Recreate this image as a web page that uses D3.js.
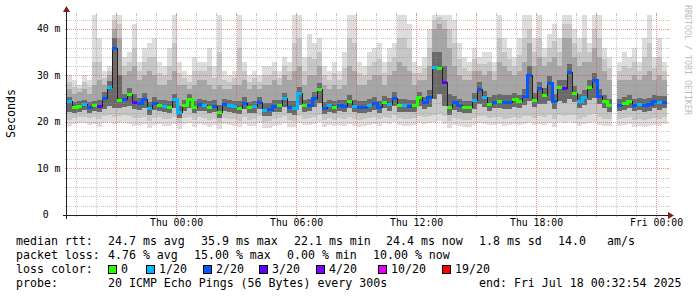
<!DOCTYPE html>
<html>
<head>
<meta charset="utf-8">
<script src="https://cdn.jsdelivr.net/npm/d3@7"></script>
<style>
  body { margin: 0; background: #ffffff; }
  svg text { font-family: "DejaVu Sans Mono", monospace; }
</style>
</head>
<body>
<div id="chart"></div>
<script>
// graph time span (UTC), one sample every 15 minutes
var tStart = Date.UTC(2025, 6, 16, 18, 32, 54);
var tEnd = Date.UTC(2025, 6, 18, 0, 32, 54);
var stepMs = 15 * 60 * 1000;

// median rtt in ms (null = no data)
var median = [24.5,23.3,23.5,23.9,23.3,23.6,23.4,25.2,27.6,35.9,
  24.7,24.9,26.0,24.3,24.0,25.0,22.9,24.0,23.6,23.5,
  23.2,24.9,22.1,23.6,24.9,23.2,23.8,23.6,23.3,23.5,
  22.1,23.8,23.6,23.4,23.1,24.1,23.2,23.4,24.2,22.6,
  22.7,23.5,23.6,25.1,23.2,23.0,26.2,23.6,23.6,25.2,
  27.1,23.1,23.6,23.3,23.6,23.5,24.5,23.5,23.2,23.3,
  23.6,24.0,23.3,24.4,23.8,25.2,23.6,23.6,23.5,23.6,
  25.3,24.2,25.3,31.8,31.5,28.6,23.3,24.2,23.6,23.3,
  23.3,24.8,27.1,25.3,23.9,24.4,24.6,24.4,24.4,25.0,
  24.5,25.6,30.0,24.8,27.2,25.9,28.3,24.5,27.5,27.3,
  30.8,26.3,24.5,25.3,27.5,29.0,25.6,24.5,23.6,null,
  23.7,24.0,24.6,23.7,23.9,23.6,23.9,24.5,24.2,24.4];

// lost pings out of 20
var loss = [1,0,0,1,2,0,3,2,1,2,
  0,2,0,3,2,2,1,2,0,1,
  0,1,1,0,0,0,2,1,0,2,
  0,2,1,1,0,2,0,1,2,1,
  2,2,0,1,2,1,1,0,2,2,
  0,2,1,0,2,2,0,1,2,2,
  1,2,2,0,1,2,0,1,2,0,
  0,2,2,1,0,3,0,2,2,0,
  0,1,2,1,0,2,0,2,2,0,
  0,2,2,0,2,0,2,2,0,3,
  2,0,1,1,0,2,2,0,0,null,
  2,0,0,2,1,2,2,2,1,2];

// smoke: slowest ping
var pingMax = [30,29,28,30,29,43.5,38,31,32,43.5,
  43.5,34,35,41,33,36,37,38,33,32,
  36,43.5,33,31,30,34,33,33,36,32,
  43.5,31,30,31,43.5,33,30,31,30,32,
  32,33,31,34,33,43.5,43.5,34,39,37,
  38,32,31,33,31,35,43.5,43.5,33,32,
  35,36,37,33,36,37,43.5,43.5,41,33,
  32,34,40,43.5,43.5,43.5,43.5,42,37,34,
  33,36,34,35,35,33,43.5,38,36,34,
  38,43.5,43.5,38,43.5,36,39,41,38,43.5,
  43.5,40,38,43.5,37,43.5,43.5,36,34,null,
  33,35,34,36,33,38,43.5,34,38,33];

// smoke: upper edge of the light-mid band
var pingHi2 = [28.5,27.5,27.3,28.5,27.5,33,33,29.5,31,42,
  41,32,33,36,31,33,34,34,30.5,30,
  32,37,30.5,29.5,28.5,31,31,31,32,29.5,
  35,29,28.5,29.5,36,31,28.5,29.5,28.5,30,
  30,31,29.5,32,31,37,38,31,34,33.5,
  35,30,29,30.5,29,31.5,38,37,30.5,30,
  32,33,33.5,30.5,33,34,38,38,36,30.5,
  30.5,31.5,36,42,42.5,42,40,37,33.5,31.5,
  31,33.5,32.5,32.5,33,31,38,35,33.5,32,
  34.5,38,40,35,38,34,36,37.5,35,41,
  41,37,35,38,35,40,38,33.5,31.5,null,
  31,32,31.5,33,31,34,37,31.5,34,31];

// smoke: upper edge of the mid band
var pingHi = [27,26,26.5,27,26,28,29,28,30,40,
  38,30,31,32,29,30,31,30,28,28,
  29,31,28,28,27,28,29,29,28,27,
  28,27,27,28,28,29,27,28,27,28,
  28,29,28,30,29,31,32,28,30,30,
  32,28,27,28,27,28,32,31,28,28,
  29,30,30,28,30,31,33,32,31,28,
  29,29,32,40,41,40,36,32,30,29,
  29,31,31,30,31,29,33,32,31,30,
  31,33,37,32,34,32,33,34,32,38,
  38,34,32,33,33,36,34,31,29,null,
  29,29,29,30,29,30,31,29,30,29];

// smoke: upper edge of the dark core
var pingHiIn = [25.3,24.3,24.5,24.8,24.3,24.6,24.8,26.5,28.8,38,
  30,26,27.2,26,25.2,26.2,24.2,25.3,24.8,24.7,
  24.5,26,23.5,24.8,26,24.5,25,24.8,24.5,24.7,
  23.6,25,24.8,24.6,24.5,25.3,24.4,24.6,25.3,24,
  24,24.8,24.8,26.3,24.5,24.5,27.5,24.8,24.9,26.5,
  28.4,24.4,24.8,24.6,24.8,24.8,25.8,24.8,24.5,24.6,
  24.9,25.3,24.6,25.6,25.1,26.5,25,25,24.8,24.8,
  26.5,25.4,26.8,35,35,32,26,25.5,24.9,24.6,
  24.6,26.2,28.5,26.6,25.3,25.7,26,25.8,25.8,26.3,
  25.9,27,32,26.3,28.6,27.3,29.8,26,29,29,
  32.5,27.8,26,26.8,29,30.5,27,25.8,24.9,null,
  25,25.3,25.9,25,25.2,24.9,25.2,25.8,25.5,25.6];

// smoke: lower edge of the dark core
var pingLoIn = [22.2,22,22.2,22.5,22,22.3,22.1,22.8,23.5,23,
  23,23.2,23.5,22.8,22.6,23,21.6,22.6,22.3,22.1,
  21.9,23,20.9,22.3,23,21.9,22.4,22.3,22,22.1,
  20.9,22.4,22.2,22,21.8,22.7,21.9,22,22.8,21.2,
  21.3,22.1,22.2,23.3,21.9,21.6,23.6,22.2,22.3,23.2,
  24,21.8,22.2,21.9,22.3,22.1,23,22.1,21.9,22,
  22.2,22.6,22,22.9,22.4,23.4,22.2,22.2,22.1,22.2,
  23.5,22.8,23.2,25,26,23.5,21.5,22.6,22.2,21.9,
  21.9,22.8,23.8,23.3,22.4,22.9,23,22.8,22.8,23.3,
  23,23.6,24.5,23.2,23.8,23.8,24.5,22.8,24.5,24,
  25,24.2,22.9,23.6,24.8,25.2,23.8,22.9,22.2,null,
  22.3,22.6,23,22.3,22.5,22.2,22.4,22.9,22.6,22.9];

// smoke: lower edge of the mid band
var pingLo = [20.5,20.8,21,21.1,20.8,21,20.6,21.2,21.4,21,
  21.2,21.5,21.2,20.8,20.9,21,20.2,20.8,21,20.6,
  20.6,21,19.8,20.9,21.1,20.5,21,20.8,20.5,20.7,
  19.8,20.9,20.7,20.6,20.3,21,20.5,20.6,21.2,20,
  20.2,20.7,20.8,21.2,20.5,20.3,21.3,20.7,20.8,21,
  21.6,20.5,20.8,20.5,20.8,20.6,21,20.6,20.5,20.6,
  20.8,21,20.6,21.1,20.9,21.4,20.8,20.7,20.6,20.8,
  21.3,21,21.2,21.5,21.8,21.2,20.3,20.9,20.7,20.5,
  20.5,20.9,21.3,21.2,20.8,21,21,20.6,20.8,21,
  20.8,21.2,21.3,20.9,21.2,21,21.4,20.6,21.5,21.3,
  21.6,21.4,20.7,21.1,21.4,21.7,21,20.6,20.7,null,
  20.6,20.8,21,20.5,20.7,20.4,20.6,20.9,20.7,21];

// smoke: fastest ping
var pingMin = [19.2,19.5,19.8,19.7,19.4,19.6,19,19.8,19.9,19.5,
  19.7,20,19.6,19.2,19.4,19.5,18.8,19.3,19.6,19.1,
  19.2,19.6,18.5,19.5,19.8,19,19.6,19.3,19,19.3,
  18.4,19.5,19.3,19.1,18.9,19.6,19.1,19.2,19.8,18.7,
  18.8,19.2,19.4,19.8,19,18.9,19.7,19.3,19.4,19.5,
  20,19,19.4,19.1,19.4,19.2,19.5,19.1,19,19.2,
  19.4,19.6,19.2,19.7,19.5,19.9,19.3,19.2,19.2,19.4,
  19.8,19.5,19.7,19.9,20.2,19.6,18.8,19.4,19.2,19,
  19,19.4,19.8,19.6,19.3,19.4,19.5,19.1,19.3,19.5,
  19.3,19.6,19.7,19.3,19.6,19.4,19.8,19,19.9,19.7,
  20,19.8,19.2,19.5,19.8,20,19.4,19.1,19.2,null,
  19.1,19.3,19.5,18.9,19.2,18.9,19.1,19.3,19.1,19.5];

// loss colour legend
var lossLevels = [0, 1, 2, 3, 4, 10, 19];
var lossLabels = ["0", "1/20", "2/20", "3/20", "4/20", "10/20", "19/20"];
var lossColors = ["#26ff00", "#00b8ff", "#0059ff", "#5e00ff", "#7e00ff", "#dd00ff", "#ff0000"];

// axis ticks
var yTicks = [0, 10, 20, 30, 40];
var yTickLabels = ["0  ", "10 m", "20 m", "30 m", "40 m"];
var xTickTimes = [Date.UTC(2025, 6, 17, 0), Date.UTC(2025, 6, 17, 6), Date.UTC(2025, 6, 17, 12),
  Date.UTC(2025, 6, 17, 18), Date.UTC(2025, 6, 18, 0)];
var xTickLabels = ["Thu 00:00", "Thu 06:00", "Thu 12:00", "Thu 18:00", "Fri 00:00"];

// legend text
var legendRows = [
  [["median rtt:", 16], ["24.7 ms avg", 108], ["35.9 ms max", 201], ["22.1 ms min", 294],
   ["24.4 ms now", 386], ["1.8 ms sd", 479], ["14.0", 558], ["am/s", 607]],
  [["packet loss:", 16], ["4.76 % avg", 108], ["15.00 % max", 194], ["0.00 % min", 287],
   ["10.00 % now", 373]],
  [["loss color:", 16]],
  [["probe:", 16], ["20 ICMP Echo Pings (56 Bytes) every 300s", 108],
   ["end: Fri Jul 18 00:32:54 2025", 479]]
];
var lossLegendX = [108, 146, 203, 259, 316, 378, 442];

var W = 697, H = 297;
var X0 = 67, X1 = 667, Y0 = 215, Y1 = 15;

var svg = d3.select("#chart").append("svg")
  .attr("width", W).attr("height", H)
  .style("display", "block");

svg.append("rect").attr("width", W).attr("height", H).attr("fill", "#ffffff");

var x = d3.scaleUtc().domain([tStart, tEnd]).range([X0, X1]);
var y = d3.scaleLinear().domain([0, 43]).range([Y0, Y1]);

svg.append("clipPath").attr("id", "plot")
  .append("rect").attr("x", X0).attr("y", Y1).attr("width", X1 - X0).attr("height", Y0 - Y1);

var samples = median.map(function (m, i) {
  return {
    t0: tStart + i * stepMs, t1: tStart + (i + 1) * stepMs,
    med: m, loss: loss[i],
    max: pingMax[i], hi2: pingHi2[i], hi: pingHi[i], hiIn: pingHiIn[i],
    loIn: pingLoIn[i], lo: pingLo[i], min: pingMin[i]
  };
});
var valid = samples.filter(function (d) { return d.med != null; });

var plot = svg.append("g").attr("clip-path", "url(#plot)").attr("shape-rendering", "crispEdges");

// smoke bands, outermost first
var bands = [["min", "max", "#dddddd"], ["lo", "hi2", "#c6c6c6"], ["loIn", "hi", "#a6a6a6"],
  ["loIn", "hiIn", "#6a6a6a"]];
bands.forEach(function (b) {
  plot.append("g").selectAll("rect").data(valid).enter().append("rect")
    .attr("x", function (d) { return Math.round(x(d.t0)); })
    .attr("width", function (d) { return Math.round(x(d.t1)) - Math.round(x(d.t0)); })
    .attr("y", function (d) { return Math.round(y(d[b[1]])); })
    .attr("height", function (d) { return Math.round(y(d[b[0]])) - Math.round(y(d[b[1]])); })
    .attr("fill", b[2]);
});

// grid
var grid = svg.append("g");
function hline(v, col) {
  var yy = Math.round(y(v)) + 0.5;
  grid.append("line").attr("x1", X0 - 2).attr("x2", X0).attr("y1", yy).attr("y2", yy).attr("stroke", col);
  grid.append("line").attr("x1", X1).attr("x2", X1 + 2).attr("y1", yy).attr("y2", yy).attr("stroke", col);
  grid.append("line").attr("x1", X0).attr("x2", X1).attr("y1", yy).attr("y2", yy)
    .attr("stroke", col).attr("stroke-dasharray", "1,1");
}
function vline(t, col) {
  var xx = Math.round(x(t)) + 0.5;
  grid.append("line").attr("x1", xx).attr("x2", xx).attr("y1", Y0).attr("y2", Y0 + 2).attr("stroke", col);
  grid.append("line").attr("x1", xx).attr("x2", xx).attr("y1", Y1 - 2).attr("y2", Y1).attr("stroke", col);
  grid.append("line").attr("x1", xx).attr("x2", xx).attr("y1", Y1).attr("y2", Y0)
    .attr("stroke", col).attr("stroke-dasharray", "1,1");
}
var minorCol = "rgba(143,143,143,0.5)", majorCol = "rgba(222,79,79,0.6)";
d3.range(2, 43, 2).forEach(function (v) { if (v % 10 !== 0) hline(v, minorCol); });
d3.utcHour.range(tStart, tEnd).forEach(function (t) {
  if (t.getUTCHours() % 3 !== 0) vline(t, minorCol);
});
d3.utcHour.every(3).range(tStart, tEnd).forEach(function (t) { vline(t, majorCol); });
yTicks.forEach(function (v) { if (v > 0) hline(v, majorCol); });

// median line: thin dark steps, thick loss coloured segments
var med = svg.append("g").attr("clip-path", "url(#plot)").attr("shape-rendering", "crispEdges");
for (var i = 0; i < samples.length - 1; i++) {
  var a = samples[i], b = samples[i + 1];
  if (a.med == null || b.med == null) continue;
  var same = a.loss === b.loss;
  var xx = Math.round(x(a.t1));
  var ya = Math.round(y(a.med)), yb = Math.round(y(b.med));
  med.append("rect")
    .attr("x", same ? xx - 1 : xx).attr("width", same ? 3 : 1)
    .attr("y", Math.min(ya, yb) - (same ? 1 : 0))
    .attr("height", Math.abs(yb - ya) + (same ? 3 : 1))
    .attr("fill", same ? lossColors[lossLevels.indexOf(a.loss)] : "#202020");
}
med.selectAll("rect.seg").data(valid).enter().append("rect").attr("class", "seg")
  .attr("x", function (d) { return Math.round(x(d.t0)); })
  .attr("width", function (d) { return Math.round(x(d.t1)) - Math.round(x(d.t0)); })
  .attr("y", function (d) { return Math.round(y(d.med)) - 1; })
  .attr("height", 3)
  .attr("fill", function (d) { return lossColors[lossLevels.indexOf(d.loss)]; });

// axes with arrows
var axisCol = "#1f1f1f", arrowCol = "#801f1f";
svg.append("line").attr("x1", X0 - 4).attr("x2", X1 + 4).attr("y1", Y0 + 0.5).attr("y2", Y0 + 0.5)
  .attr("stroke", axisCol);
svg.append("line").attr("x1", X0 - 0.5).attr("x2", X0 - 0.5).attr("y1", Y0 + 4).attr("y2", Y1 - 4)
  .attr("stroke", axisCol);
svg.append("path").attr("d", "M" + (X1 + 1) + "," + (Y0 - 3) + "L" + (X1 + 7) + "," + (Y0 + 0.5) + "L" + (X1 + 1) + "," + (Y0 + 4) + "Z")
  .attr("fill", arrowCol);
svg.append("path").attr("d", "M" + (X0 - 4) + "," + (Y1 - 3) + "L" + (X0 - 0.5) + "," + (Y1 - 9) + "L" + (X0 + 3) + "," + (Y1 - 3) + "Z")
  .attr("fill", arrowCol);

// tick labels
svg.append("g").selectAll("text").data(yTicks).enter().append("text")
  .attr("x", 60.5).attr("y", function (d) { return y(d); }).attr("dy", "0.35em")
  .attr("text-anchor", "end").attr("xml:space", "preserve")
  .attr("font-size", "9.8px").attr("fill", "#000")
  .text(function (d, i) { return yTickLabels[i]; });

svg.append("g").attr("transform", "translate(0," + (Y0 + 2) + ")")
  .call(d3.axisBottom(x).tickValues(xTickTimes).tickSize(0).tickPadding(0)
    .tickFormat(function (d, i) { return xTickLabels[i]; }))
  .call(function (g) {
    g.select(".domain").remove();
    g.selectAll("text").attr("dy", "8.6px").attr("font-size", "9.8px")
      .attr("font-family", "DejaVu Sans Mono, monospace").attr("fill", "#000");
  });

// unit label and watermark
svg.append("text").attr("transform", "translate(15,113.5) rotate(-90)")
  .attr("text-anchor", "middle").attr("font-size", "11.6px").attr("fill", "#000").text("Seconds");
svg.append("text").attr("transform", "translate(685,5) rotate(90)")
  .attr("font-size", "8.3px").attr("fill", "#bdbdbd").text("RRDTOOL / TOBI OETIKER");

// legend
var legend = svg.append("g").attr("font-size", "11.6px").attr("fill", "#000");
legendRows.forEach(function (row, r) {
  row.forEach(function (it) {
    legend.append("text").attr("x", it[1]).attr("y", 245 + r * 14)
      .attr("xml:space", "preserve").text(it[0]);
  });
});
lossLabels.forEach(function (lab, k) {
  legend.append("rect").attr("x", lossLegendX[k] + 0.5).attr("y", 265.5).attr("width", 8).attr("height", 8)
    .attr("fill", lossColors[k]).attr("stroke", "#000").attr("stroke-width", 1);
  legend.append("text").attr("x", lossLegendX[k] + 13).attr("y", 273).text(lab);
});
</script>
</body>
</html>
